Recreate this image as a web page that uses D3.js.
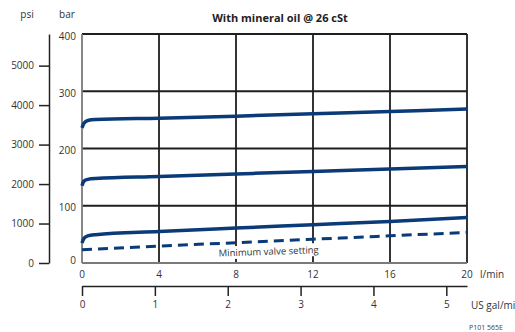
<!DOCTYPE html>
<html lang="en">
<head>
<meta charset="UTF-8">
<title>With mineral oil @ 26 cSt</title>
<script src="https://cdn.jsdelivr.net/npm/d3@7"></script>
<style>
    body { margin: 0; background: #fff; }
    svg { display: block; font-family: "Open Sans", "DejaVu Sans", sans-serif; }
    .lbl { font-size: 10px; fill: #333; }
    .axis .domain { stroke: #222; stroke-width: 1.5; }
    .axis line { stroke: #222; stroke-width: 1.5; }
    .axis text { font-family: "Open Sans", sans-serif; font-size: 10px; fill: #333; }
</style>
</head>
<body>
<div id="chart"></div>
<script>
// flow in l/min, pressure in bar
var flowTicks = [0, 4, 8, 12, 16, 20];
var barTicks = [0, 100, 200, 300, 400];
var psiTicks = [0, 1000, 2000, 3000, 4000, 5000];
var galTicks = [0, 1, 2, 3, 4, 5];

var flow = [0, 0.1, 0.3, 0.7, 4, 8, 12, 16, 20];
var curveHigh = [236, 244, 249, 250.5, 253, 256.5, 260.5, 264.6, 268.8];
var curveMid = [135, 143, 146, 147.5, 151, 155.5, 160, 164, 168.6];
var curveLow = [35, 43, 47.5, 49.5, 55, 61, 66.8, 72.6, 79.6];
var minFlow = [0, 4, 8, 12, 16, 20];
var minSetting = [23, 29.5, 35.5, 41.5, 47.5, 53.4];

var width = 515;
var height = 332;
var padding = {left: 82, right: 48, top: 34, bottom: 69};
var plotW = width - padding.left - padding.right;
var plotH = height - padding.top - padding.bottom;

var svg = d3.select("#chart")
        .append("svg")
        .attr("width", width)
        .attr("height", height);

var xScale = d3.scaleLinear().domain([0, 20]).range([0, plotW]);
var yScale = d3.scaleLinear().domain([0, 400]).range([plotH, 0]);
var psiScale = d3.scaleLinear().domain([0, 400 * 14.5038]).range([plotH, 0]);
var galScale = d3.scaleLinear().domain([0, 20 / 3.785]).range([0, plotW]);

var plot = svg.append("g")
        .attr("transform", "translate(" + padding.left + "," + padding.top + ")");

// title and unit labels
svg.append("text")
        .attr("x", 280).attr("y", 22)
        .attr("text-anchor", "middle")
        .style("font-size", "11px").style("font-weight", "bold").style("fill", "#222")
        .text("With mineral oil @ 26 cSt");
svg.append("text").attr("class", "lbl").attr("x", 27).attr("y", 18)
        .attr("text-anchor", "middle").text("psi");
svg.append("text").attr("class", "lbl").attr("x", 67).attr("y", 18)
        .attr("text-anchor", "middle").text("bar");

// grid lines
plot.selectAll(".hgrid")
        .data(barTicks.slice(1))
        .enter()
        .append("line")
        .attr("x1", 0).attr("x2", plotW)
        .attr("y1", function (d) { return yScale(d); })
        .attr("y2", function (d) { return yScale(d); })
        .attr("stroke", "#1e1e1e").attr("stroke-width", 1.8);
plot.selectAll(".vgrid")
        .data(flowTicks.slice(1))
        .enter()
        .append("line")
        .attr("y1", 0).attr("y2", plotH)
        .attr("x1", function (d) { return xScale(d); })
        .attr("x2", function (d) { return xScale(d); })
        .attr("stroke", "#1e1e1e").attr("stroke-width", 1.8);
// left and bottom frame are lighter
plot.append("line")
        .attr("x1", 0).attr("x2", 0).attr("y1", 0).attr("y2", plotH)
        .attr("stroke", "#7a7a7a").attr("stroke-width", 1.8);
plot.append("line")
        .attr("x1", 0).attr("x2", plotW).attr("y1", plotH).attr("y2", plotH)
        .attr("stroke", "#7a7a7a").attr("stroke-width", 1.8);

// bar labels
plot.selectAll(".barlbl")
        .data(barTicks)
        .enter()
        .append("text")
        .attr("class", "lbl")
        .attr("x", -6)
        .attr("y", function (d) { return yScale(d) + (d === 0 ? -3 : 2); })
        .attr("dy", "0.35em")
        .attr("text-anchor", "end")
        .text(function (d) { return d; });

// flow labels
plot.selectAll(".flowlbl")
        .data(flowTicks)
        .enter()
        .append("text")
        .attr("class", "lbl")
        .attr("x", function (d) { return xScale(d); })
        .attr("y", plotH + 11)
        .attr("dy", "0.35em")
        .attr("text-anchor", "middle")
        .text(function (d) { return d; });
plot.append("text").attr("class", "lbl")
        .attr("x", plotW + 13).attr("y", plotH + 11).attr("dy", "0.35em")
        .text("l/min");

// psi axis
var psiAxis = d3.axisLeft(psiScale).tickValues(psiTicks).tickFormat(d3.format("d"))
        .tickSize(10).tickSizeOuter(0).tickPadding(5);
svg.append("g")
        .attr("class", "axis")
        .attr("transform", "translate(49," + padding.top + ")")
        .call(psiAxis);

// US gal/min axis
var galAxis = d3.axisBottom(galScale).tickValues(galTicks).tickFormat(d3.format("d"))
        .tickSize(10).tickSizeOuter(0).tickPadding(5);
svg.append("g")
        .attr("class", "axis")
        .attr("transform", "translate(" + padding.left + ",286)")
        .call(galAxis);
svg.append("text").attr("class", "lbl")
        .attr("x", 471).attr("y", 305).attr("dy", "0.35em")
        .text("US gal/min");
svg.append("text")
        .attr("x", 469).attr("y", 330)
        .style("font-size", "7px").style("fill", "#444")
        .text("P101 565E");

// label for the dashed line, on a white patch that hides the grid
var lblG = plot.append("g")
        .attr("transform", "translate(" + xScale(7.1) + "," + yScale(17) + ") rotate(-2)");
var lblRect = lblG.append("rect").attr("fill", "#fff");
var lblText = lblG.append("text")
        .attr("class", "lbl")
        .attr("dy", "0.35em")
        .style("font-size", "9.5px")
        .text("Minimum valve setting");
var bb = lblText.node().getBBox();
lblRect.attr("x", bb.x - 1).attr("y", bb.y).attr("width", bb.width + 2).attr("height", bb.height);

// pressure curves
var line = d3.line()
        .x(function (d) { return xScale(d[0]); })
        .y(function (d) { return yScale(d[1]); })
        .curve(d3.curveMonotoneX);

[curveHigh, curveMid, curveLow].forEach(function (series) {
    plot.append("path")
            .datum(d3.zip(flow, series))
            .attr("d", line)
            .attr("fill", "none")
            .attr("stroke", "#0a3a78")
            .attr("stroke-width", 3.5);
});

plot.append("path")
        .datum(d3.zip(minFlow, minSetting))
        .attr("d", line)
        .attr("fill", "none")
        .attr("stroke", "#0a3a78")
        .attr("stroke-width", 3)
        .attr("stroke-dasharray", "10,6");
</script>
</body>
</html>
